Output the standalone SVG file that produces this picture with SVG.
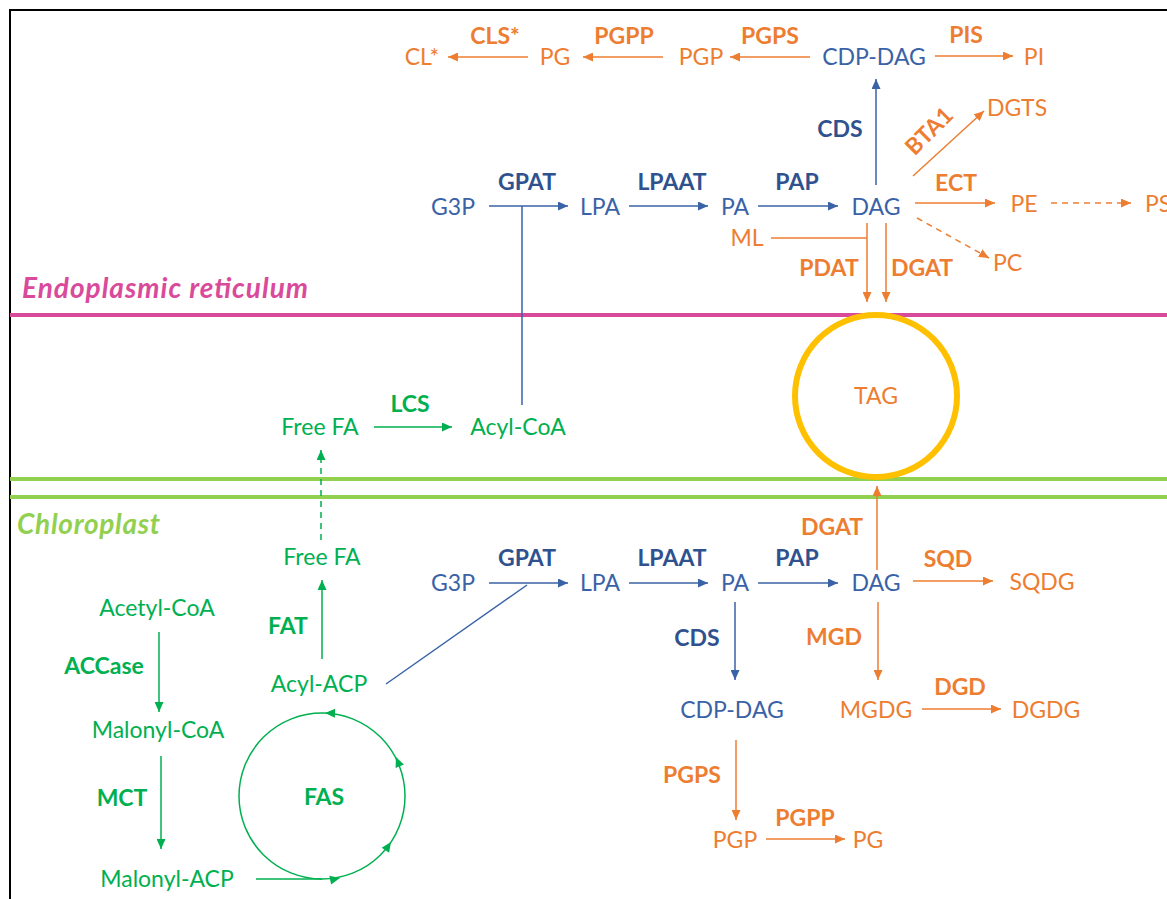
<svg xmlns="http://www.w3.org/2000/svg" width="1167" height="899" viewBox="0 0 1167 899">
<style>
text{font-family:Lato,"Open Sans","Liberation Sans",sans-serif;text-anchor:middle}
.n{font-size:23px}
.l{font-size:23px;font-weight:bold}
.b{fill:#3A62A7}.bl{fill:#2F528F}
.o{fill:#ED7D31}.g{fill:#00B050}
.ln{fill:none;stroke-width:1.5}
.cb{stroke:#3A62A7}.co{stroke:#ED7D31}.cg{stroke:#00B050}
.d{stroke-dasharray:6,5}
</style>
<defs>
<marker id="ab" markerUnits="userSpaceOnUse" markerWidth="11" markerHeight="9" refX="10" refY="4.5" orient="auto"><path d="M0,0 L10,4.5 L0,9 z" fill="#3A62A7"/></marker>
<marker id="ao" markerUnits="userSpaceOnUse" markerWidth="11" markerHeight="9" refX="10" refY="4.5" orient="auto"><path d="M0,0 L10,4.5 L0,9 z" fill="#ED7D31"/></marker>
<marker id="ag" markerUnits="userSpaceOnUse" markerWidth="11" markerHeight="9" refX="10" refY="4.5" orient="auto"><path d="M0,0 L10,4.5 L0,9 z" fill="#00B050"/></marker>
<path id="hg" d="M0,0 L-10,-4.5 L-10,4.5 z" fill="#00B050"/>
</defs>
<rect width="1167" height="899" fill="#fff"/>
<path d="M10,899 V10 H1167" fill="none" stroke="#000" stroke-width="2"/>
<g id="membranes">
<line x1="10" y1="315" x2="1167" y2="315" stroke="#DA4A9B" stroke-width="4"/>
<line x1="10" y1="479" x2="1167" y2="479" stroke="#92D050" stroke-width="4"/>
<line x1="10" y1="497" x2="1167" y2="497" stroke="#92D050" stroke-width="4"/>
<text x="22" y="298" textLength="286" style="text-anchor:start;font-size:28px;font-weight:bold;font-style:italic" fill="#DA4A9B">Endoplasmic reticulum</text>
<text x="17" y="534" textLength="143" style="text-anchor:start;font-size:28px;font-weight:bold;font-style:italic" fill="#92D050">Chloroplast</text>
</g>
<g id="connectors">
<line class="ln co" x1="528" y1="57" x2="448" y2="57" marker-end="url(#ao)"/>
<line class="ln co" x1="663" y1="57" x2="583" y2="57" marker-end="url(#ao)"/>
<line class="ln co" x1="810" y1="57" x2="730" y2="57" marker-end="url(#ao)"/>
<line class="ln co" x1="935" y1="56" x2="1013" y2="56" marker-end="url(#ao)"/>
<line class="ln cb" x1="876" y1="185" x2="876" y2="79" marker-end="url(#ab)"/>
<line class="ln co" x1="913" y1="176" x2="984" y2="111" marker-end="url(#ao)"/>
<line class="ln co" x1="915" y1="203" x2="995" y2="203" marker-end="url(#ao)"/>
<line class="ln co d" x1="1051" y1="203" x2="1131" y2="203" marker-end="url(#ao)"/>
<line class="ln co d" x1="917" y1="218" x2="989" y2="258" marker-end="url(#ao)"/>
<line class="ln co" x1="771" y1="238" x2="867" y2="238"/>
<line class="ln co" x1="867" y1="223" x2="867" y2="302" marker-end="url(#ao)"/>
<line class="ln co" x1="886" y1="223" x2="886" y2="302" marker-end="url(#ao)"/>
<line class="ln cb" x1="489" y1="206" x2="568" y2="206" marker-end="url(#ab)"/>
<line class="ln cb" x1="629" y1="206" x2="708" y2="206" marker-end="url(#ab)"/>
<line class="ln cb" x1="758" y1="206" x2="838" y2="206" marker-end="url(#ab)"/>
<line class="ln cb" x1="522" y1="206" x2="522" y2="405"/>
<line class="ln cg" x1="374" y1="427" x2="452" y2="427" marker-end="url(#ag)"/>
<line class="ln cg d" x1="321" y1="540" x2="321" y2="450" marker-end="url(#ag)"/>
<line class="ln cg" x1="322" y1="659" x2="322" y2="580" marker-end="url(#ag)"/>
<line class="ln cg" x1="159" y1="632" x2="159" y2="712" marker-end="url(#ag)"/>
<line class="ln cg" x1="161" y1="756" x2="161" y2="849" marker-end="url(#ag)"/>
<line class="ln cg" x1="256" y1="879" x2="322" y2="879"/>
<circle class="ln cg" cx="322" cy="796" r="83"/>
<use href="#hg" transform="translate(340,878) rotate(-12)"/>
<use href="#hg" transform="translate(391,842) rotate(-56)"/>
<use href="#hg" transform="translate(396,757) rotate(-112)"/>
<use href="#hg" transform="translate(325,713) rotate(-178)"/>
<line class="ln cb" x1="386" y1="684" x2="527" y2="585"/>
<line class="ln cb" x1="489" y1="583" x2="568" y2="583" marker-end="url(#ab)"/>
<line class="ln cb" x1="629" y1="583" x2="708" y2="583" marker-end="url(#ab)"/>
<line class="ln cb" x1="758" y1="583" x2="838" y2="583" marker-end="url(#ab)"/>
<line class="ln cb" x1="735" y1="602" x2="735" y2="680" marker-end="url(#ab)"/>
<line class="ln co" x1="877" y1="570" x2="877" y2="486" marker-end="url(#ao)"/>
<line class="ln co" x1="913" y1="581" x2="993" y2="581" marker-end="url(#ao)"/>
<line class="ln co" x1="878" y1="602" x2="878" y2="680" marker-end="url(#ao)"/>
<line class="ln co" x1="922" y1="709" x2="1001" y2="709" marker-end="url(#ao)"/>
<line class="ln co" x1="736" y1="740" x2="736" y2="820" marker-end="url(#ao)"/>
<line class="ln co" x1="766" y1="839" x2="845" y2="839" marker-end="url(#ao)"/>
</g>
<g id="tag"><circle cx="876" cy="396" r="81" fill="none" stroke="#FFC000" stroke-width="6"/><text class="n o" x="876" y="404">TAG</text></g>
<g id="er-cl"><text class="n o" x="422" y="65">CL*</text></g>
<g id="er-cls"><text class="l o" x="495" y="44">CLS*</text></g>
<g id="er-pg"><text class="n o" x="555" y="65">PG</text></g>
<g id="er-pgpp"><text class="l o" x="624" y="44">PGPP</text></g>
<g id="er-pgp"><text class="n o" x="701" y="65">PGP</text></g>
<g id="er-pgps"><text class="l o" x="770" y="44">PGPS</text></g>
<g id="er-cdpdag"><text class="n b" x="874" y="65">CDP-DAG</text></g>
<g id="er-pis"><text class="l o" x="966" y="43">PIS</text></g>
<g id="er-pi"><text class="n o" x="1034" y="65">PI</text></g>
<g id="er-cds"><text class="l bl" x="840" y="137">CDS</text></g>
<g id="er-bta1"><text class="l o" transform="translate(929,131) rotate(-45)" y="8">BTA1</text></g>
<g id="er-dgts"><text class="n o" x="1017" y="116">DGTS</text></g>
<g id="er-ect"><text class="l o" x="956" y="191">ECT</text></g>
<g id="er-pe"><text class="n o" x="1024" y="212">PE</text></g>
<g id="er-ps"><text class="n o" x="1145" y="212" style="text-anchor:start">PS</text></g>
<g id="er-pc"><text class="n o" x="993" y="271" style="text-anchor:start">PC</text></g>
<g id="er-ml"><text class="n o" x="747" y="246">ML</text></g>
<g id="er-pdat"><text class="l o" x="829" y="276">PDAT</text></g>
<g id="er-dgat"><text class="l o" x="922" y="276">DGAT</text></g>
<g id="er-g3p"><text class="n b" x="453" y="215">G3P</text></g>
<g id="er-gpat"><text class="l bl" x="527" y="190">GPAT</text></g>
<g id="er-lpa"><text class="n b" x="600" y="215">LPA</text></g>
<g id="er-lpaat"><text class="l bl" x="672" y="190">LPAAT</text></g>
<g id="er-pa"><text class="n b" x="735" y="215">PA</text></g>
<g id="er-pap"><text class="l bl" x="797" y="190">PAP</text></g>
<g id="er-dag"><text class="n b" x="876" y="215">DAG</text></g>
<g id="er-freefa"><text class="n g" x="320" y="435">Free FA</text></g>
<g id="er-lcs"><text class="l g" x="410" y="412">LCS</text></g>
<g id="er-acylcoa"><text class="n g" x="518" y="435">Acyl-CoA</text></g>
<g id="cp-freefa"><text class="n g" x="322" y="565">Free FA</text></g>
<g id="cp-fat"><text class="l g" x="288" y="634">FAT</text></g>
<g id="cp-acetylcoa"><text class="n g" x="157" y="616">Acetyl-CoA</text></g>
<g id="cp-accase"><text class="l g" x="104" y="674">ACCase</text></g>
<g id="cp-malonylcoa"><text class="n g" x="158" y="738">Malonyl-CoA</text></g>
<g id="cp-mct"><text class="l g" x="122" y="806">MCT</text></g>
<g id="cp-malonylacp"><text class="n g" x="167" y="887">Malonyl-ACP</text></g>
<g id="cp-acylacp"><text class="n g" x="319" y="692">Acyl-ACP</text></g>
<g id="cp-fas"><text class="l g" x="324" y="805">FAS</text></g>
<g id="cp-g3p"><text class="n b" x="453" y="591">G3P</text></g>
<g id="cp-gpat"><text class="l bl" x="527" y="566">GPAT</text></g>
<g id="cp-lpa"><text class="n b" x="600" y="591">LPA</text></g>
<g id="cp-lpaat"><text class="l bl" x="672" y="566">LPAAT</text></g>
<g id="cp-pa"><text class="n b" x="735" y="591">PA</text></g>
<g id="cp-pap"><text class="l bl" x="797" y="566">PAP</text></g>
<g id="cp-dag"><text class="n b" x="876" y="591">DAG</text></g>
<g id="cp-dgat"><text class="l o" x="832" y="535">DGAT</text></g>
<g id="cp-sqd"><text class="l o" x="948" y="567">SQD</text></g>
<g id="cp-sqdg"><text class="n o" x="1042" y="590">SQDG</text></g>
<g id="cp-cds"><text class="l bl" x="697" y="646">CDS</text></g>
<g id="cp-cdpdag"><text class="n b" x="732" y="718">CDP-DAG</text></g>
<g id="cp-mgd"><text class="l o" x="834" y="645">MGD</text></g>
<g id="cp-mgdg"><text class="n o" x="876" y="718">MGDG</text></g>
<g id="cp-dgd"><text class="l o" x="960" y="695">DGD</text></g>
<g id="cp-dgdg"><text class="n o" x="1046" y="718">DGDG</text></g>
<g id="cp-pgps"><text class="l o" x="692" y="783">PGPS</text></g>
<g id="cp-pgp"><text class="n o" x="735" y="848">PGP</text></g>
<g id="cp-pgpp"><text class="l o" x="805" y="826">PGPP</text></g>
<g id="cp-pg"><text class="n o" x="868" y="848">PG</text></g>
</svg>
